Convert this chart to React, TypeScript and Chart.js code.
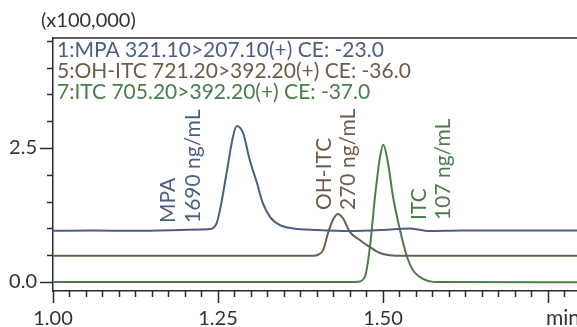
import React, { useEffect, useRef } from 'react';
import { Chart, registerables } from 'chart.js';

Chart.register(...registerables);

// ---- data (time in min, intensity in x100,000) ----
const mpaTimes = [1.0, 1.06, 1.12, 1.18, 1.225, 1.24, 1.248, 1.253, 1.263, 1.2727, 1.2783, 1.288, 1.298, 1.309, 1.318, 1.329, 1.344, 1.364, 1.4, 1.45, 1.5, 1.54, 1.57, 1.62, 1.7, 1.8];
const mpaValues = [0.955, 0.96, 0.955, 0.965, 0.98, 0.995, 1.1, 1.34, 2.03, 2.71, 2.91, 2.78, 2.28, 1.85, 1.47, 1.21, 1.06, 1.0, 0.97, 0.95, 0.97, 1.0, 0.95, 0.96, 0.96, 0.96];

const ohitcTimes = [1.0, 1.3, 1.395, 1.4015, 1.4095, 1.4167, 1.4242, 1.4318, 1.4394, 1.45, 1.4652, 1.4803, 1.4955, 1.5106, 1.53, 1.8];
const ohitcValues = [0.49, 0.49, 0.49, 0.505, 0.6, 0.91, 1.16, 1.27, 1.19, 0.93, 0.78, 0.65, 0.54, 0.5, 0.49, 0.49];

const itcTimes = [1.0, 1.3, 1.45, 1.462, 1.4727, 1.4803, 1.4879, 1.4955, 1.5005, 1.5076, 1.5152, 1.5258, 1.5364, 1.5455, 1.5606, 1.5818, 1.8];
const itcValues = [0.0, 0.0, 0.0, 0.005, 0.1, 0.66, 1.59, 2.33, 2.56, 2.22, 1.59, 0.97, 0.47, 0.22, 0.06, 0.0, -0.005];

const xMajorTicks = [1.0, 1.25, 1.5, 1.75];
const xTickLabels = ['1.00', '1.25', '1.50', ''];
const xUnitLabel = 'min';
const yMajorTicks = [0, 2.5];
const yTickLabels = ['0.0', '2.5'];
const xMinorStep = 0.025;
const yMinorStep = 0.5;

const scaleNote = '(x100,000)';
const legendLines = [
  '1:MPA 321.10>207.10(+) CE: -23.0',
  '5:OH-ITC 721.20>392.20(+) CE: -36.0',
  '7:ITC 705.20>392.20(+) CE: -37.0',
];

const BLUE = '#4d5f80';
const BROWN = '#6e5c4b';
const GREEN = '#4b7d4b';
const AXIS = '#2b2b2b';
const FONT = 'Lato, "Open Sans", sans-serif';

const legendColors = [BLUE, BROWN, GREEN];

// rotated peak annotations, anchored in data coordinates (baseline time, bottom value)
const peakNotes = [
  { text: 'MPA', t: 1.1848, v: 1.1, color: BLUE },
  { text: '1690 ng/mL', t: 1.2227, v: 1.1, color: BLUE },
  { text: 'OH-ITC', t: 1.4212, v: 1.343, color: BROWN },
  { text: '270 ng/mL', t: 1.4576, v: 1.343, color: BROWN },
  { text: 'ITC', t: 1.5652, v: 1.157, color: GREEN },
  { text: '107 ng/mL', t: 1.6015, v: 1.157, color: GREEN },
];

const X_MIN = 1.0;
const X_MAX = 1.794;
const Y_MIN = -0.168;
const Y_MAX = 4.552;

const toPoints = (ts: number[], vs: number[]) => ts.map((t, i) => ({ x: t, y: vs[i] }));

const decorPlugin = {
  id: 'decor',
  afterDraw(chart: any) {
    const { ctx, chartArea } = chart;
    const xs = chart.scales.x;
    const ys = chart.scales.y;
    ctx.save();
    ctx.strokeStyle = AXIS;
    ctx.lineWidth = 1.5;
    // top frame line
    ctx.beginPath();
    ctx.moveTo(chartArea.left, chartArea.top);
    ctx.lineTo(chartArea.right, chartArea.top);
    ctx.stroke();
    // x ticks
    const bottom = chartArea.bottom;
    for (let k = 0; ; k++) {
      const v = X_MIN + k * xMinorStep;
      if (v > X_MAX + 1e-9) break;
      const isMajor = xMajorTicks.some((m) => Math.abs(m - v) < 1e-6);
      const px = Math.round(xs.getPixelForValue(v)) + 0.5;
      ctx.beginPath();
      ctx.moveTo(px, bottom);
      ctx.lineTo(px, bottom + (isMajor ? 12 : 6));
      ctx.stroke();
    }
    // y ticks
    const left = chartArea.left;
    for (let k = 0; ; k++) {
      const v = k * yMinorStep;
      if (v > Y_MAX + 1e-9) break;
      const isMajor = yMajorTicks.some((m) => Math.abs(m - v) < 1e-6);
      const py = Math.round(ys.getPixelForValue(v)) + 0.5;
      ctx.beginPath();
      ctx.moveTo(left, py);
      ctx.lineTo(left - (isMajor ? 13 : 6), py);
      ctx.stroke();
    }
    // unit label on x axis
    ctx.fillStyle = '#333';
    ctx.font = `21px ${FONT}`;
    ctx.textAlign = 'left';
    ctx.textBaseline = 'alphabetic';
    ctx.fillText(xUnitLabel, xs.getPixelForValue(1.75) - 2, 325);
    // scale note
    ctx.font = `20px ${FONT}`;
    ctx.fillText(scaleNote, 41, 27);
    // legend lines
    ctx.font = `21px ${FONT}`;
    legendLines.forEach((line, i) => {
      ctx.fillStyle = legendColors[i];
      ctx.fillText(line, chartArea.left + 4, chartArea.top + 19 + i * 21);
    });
    // rotated peak notes
    peakNotes.forEach((n) => {
      const px = xs.getPixelForValue(n.t);
      const py = ys.getPixelForValue(n.v);
      ctx.save();
      ctx.translate(px, py);
      ctx.rotate(-Math.PI / 2);
      ctx.fillStyle = n.color;
      ctx.font = `21px ${FONT}`;
      ctx.fillText(n.text, 0, 0);
      ctx.restore();
    });
    ctx.restore();
  },
};

export default function App() {
  const ref = useRef<HTMLCanvasElement | null>(null);
  useEffect(() => {
    document.body.style.margin = '0';
    const canvas = ref.current;
    if (!canvas) return;
    const chart = new Chart(canvas, {
      type: 'line',
      data: {
        datasets: [
          { label: 'MPA', data: toPoints(mpaTimes, mpaValues), borderColor: BLUE, borderWidth: 2, pointRadius: 0, cubicInterpolationMode: 'monotone', fill: false },
          { label: 'OH-ITC', data: toPoints(ohitcTimes, ohitcValues), borderColor: BROWN, borderWidth: 2, pointRadius: 0, cubicInterpolationMode: 'monotone', fill: false },
          { label: 'ITC', data: toPoints(itcTimes, itcValues), borderColor: GREEN, borderWidth: 2, pointRadius: 0, cubicInterpolationMode: 'monotone', fill: false },
        ],
      },
      options: {
        animation: false,
        responsive: false,
        devicePixelRatio: 1,
        layout: { padding: { top: 38, left: 0, right: 0, bottom: 0 } },
        plugins: { legend: { display: false }, tooltip: { enabled: false }, title: { display: false } },
        scales: {
          x: {
            type: 'linear',
            min: X_MIN,
            max: X_MAX,
            afterBuildTicks: (s: any) => { s.ticks = xMajorTicks.map((v) => ({ value: v })); },
            afterFit: (s: any) => { s.height = 36; },
            grid: { display: false, drawTicks: true, tickLength: 12 },
            border: { display: true, color: AXIS, width: 1.5 },
            ticks: {
              autoSkip: false,
              maxRotation: 0,
              padding: 4,
              color: '#333',
              font: { family: FONT, size: 20 },
              callback: (value: any) => {
                const i = xMajorTicks.findIndex((m) => Math.abs(m - Number(value)) < 1e-6);
                return i >= 0 ? xTickLabels[i] : '';
              },
            },
          },
          y: {
            type: 'linear',
            min: Y_MIN,
            max: Y_MAX,
            afterBuildTicks: (s: any) => { s.ticks = yMajorTicks.map((v) => ({ value: v })); },
            afterFit: (s: any) => { s.width = 53; },
            grid: { display: false, drawTicks: true, tickLength: 13 },
            border: { display: true, color: AXIS, width: 1.5 },
            ticks: {
              autoSkip: false,
              padding: 3,
              color: '#333',
              font: { family: FONT, size: 20 },
              callback: (value: any) => {
                const i = yMajorTicks.findIndex((m) => Math.abs(m - Number(value)) < 1e-6);
                return i >= 0 ? yTickLabels[i] : '';
              },
            },
          },
        },
      },
      plugins: [decorPlugin],
    } as any);
    return () => chart.destroy();
  }, []);
  return (
    <div style={{ width: 577, height: 327, background: '#fff' }}>
      <canvas ref={ref} width={577} height={327} style={{ display: 'block', width: 577, height: 327 }} />
    </div>
  );
}
